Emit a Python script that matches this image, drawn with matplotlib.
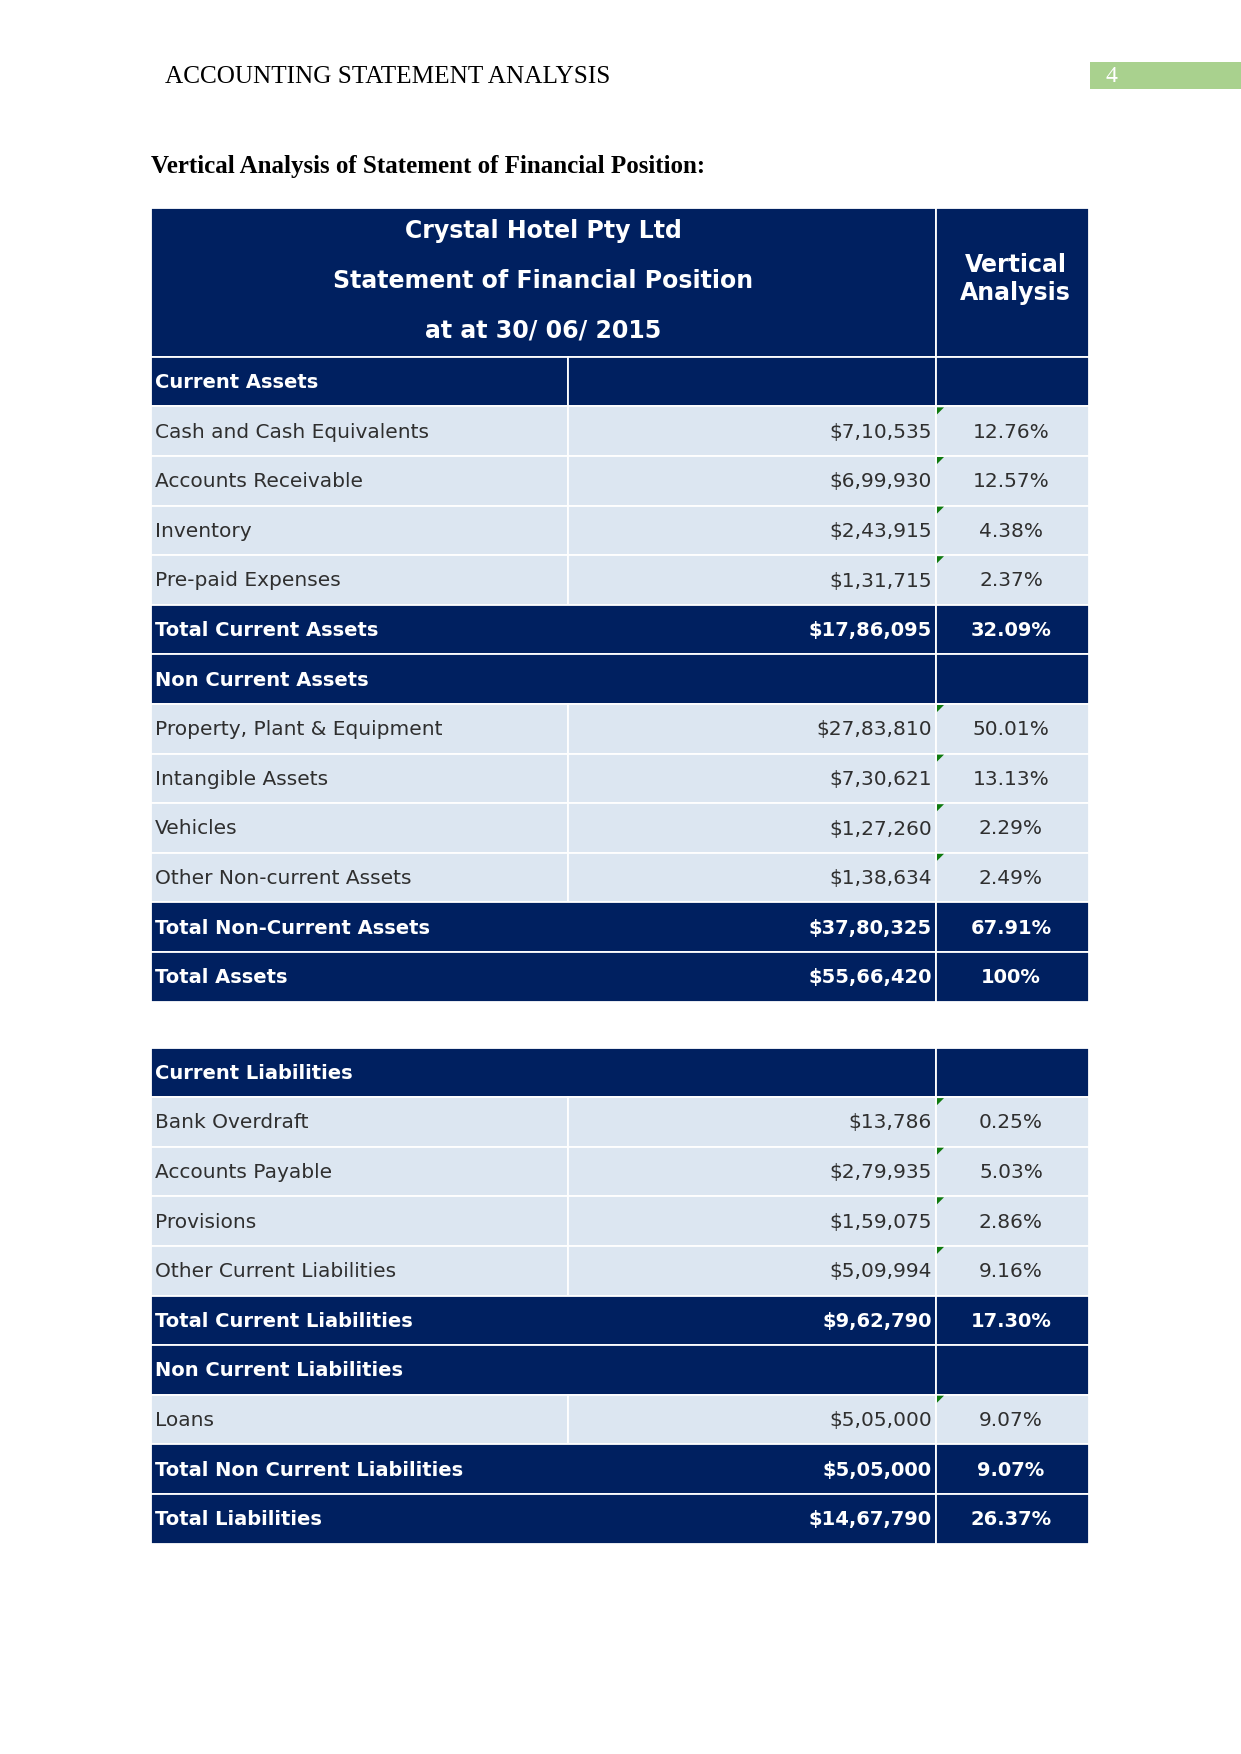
#!/usr/bin/env python3
import matplotlib.pyplot as plt
from matplotlib.patches import Rectangle, Polygon

# table data
title_lines = ["Crystal Hotel Pty Ltd", "Statement of Financial Position", "at at 30/ 06/ 2015"]
va_title = "Vertical\nAnalysis"

asset_labels = ["Current Assets", "Cash and Cash Equivalents", "Accounts Receivable", "Inventory",
                "Pre-paid Expenses", "Total Current Assets", "Non Current Assets",
                "Property, Plant & Equipment", "Intangible Assets", "Vehicles",
                "Other Non-current Assets", "Total Non-Current Assets", "Total Assets"]
asset_values = [None, 710535, 699930, 243915, 131715, 1786095, None,
                2783810, 730621, 127260, 138634, 3780325, 5566420]
asset_pcts = [None, 12.76, 12.57, 4.38, 2.37, 32.09, None, 50.01, 13.13, 2.29, 2.49, 67.91, 100]
asset_kinds = ["split", "item", "item", "item", "item", "total", "section",
               "item", "item", "item", "item", "total", "total"]

liab_labels = ["Current Liabilities", "Bank Overdraft", "Accounts Payable", "Provisions",
               "Other Current Liabilities", "Total Current Liabilities", "Non Current Liabilities",
               "Loans", "Total Non Current Liabilities", "Total Liabilities"]
liab_values = [None, 13786, 279935, 159075, 509994, 962790, None, 505000, 505000, 1467790]
liab_pcts = [None, 0.25, 5.03, 2.86, 9.16, 17.30, None, 9.07, 9.07, 26.37]
liab_kinds = ["section", "item", "item", "item", "item", "total", "section", "item", "total", "total"]

NAVY = "#002060"
LIGHT = "#dce6f1"
TEXT = "#2f2f2f"


def inr(v):
    # indian style grouping, e.g. $7,10,535
    s = str(v)
    if len(s) <= 3:
        return "$" + s
    head, tail = s[:-3], s[-3:]
    parts = []
    while len(head) > 2:
        parts.insert(0, head[-2:])
        head = head[:-2]
    if head:
        parts.insert(0, head)
    return "$" + ",".join(parts + [tail])


def pct(p):
    return "100%" if p == 100 else f"{p:.2f}%"


fig = plt.figure(figsize=(12.41, 17.54), dpi=100)
ax = fig.add_axes([0, 0, 1, 1])
ax.set_xlim(0, 1241)
ax.set_ylim(1754, 0)
ax.axis("off")

# column edges
x0, x1, x2, x3 = 151, 568, 936, 1089
rh = 49.6

# page header
ax.text(165, 77, "ACCOUNTING STATEMENT ANALYSIS", family="Liberation Serif", fontsize=18.2,
        va="center", ha="left", color="black")
ax.add_patch(Rectangle((1090, 62), 151, 27, facecolor="#a9d18e", edgecolor="none"))
ax.text(1105, 76, "4", family="Liberation Serif", fontsize=17, color="white", va="center")
ax.text(151, 167, "Vertical Analysis of Statement of Financial Position:", family="Liberation Serif",
        fontsize=18, fontweight="bold", va="center", ha="left")


def cell(x, y, w, h, fc):
    ax.add_patch(Rectangle((x, y), w, h, facecolor=fc, edgecolor="white", linewidth=1.3))


def draw_rows(top, labels, values, pcts, kinds):
    for i, (lab, val, p, k) in enumerate(zip(labels, values, pcts, kinds)):
        y = top + i * rh
        yc = y + rh / 2
        if k == "item":
            cell(x0, y, x1 - x0, rh, LIGHT)
            cell(x1, y, x2 - x1, rh, LIGHT)
            cell(x2, y, x3 - x2, rh, LIGHT)
            ax.add_patch(Polygon([(x2 + 1, y + 1), (x2 + 8, y + 1), (x2 + 1, y + 8)],
                                 closed=True, facecolor="#0f7a0f", edgecolor="none"))
            col, wt, fs = TEXT, "normal", 14.5
        else:
            if k == "split":
                cell(x0, y, x1 - x0, rh, NAVY)
                cell(x1, y, x2 - x1, rh, NAVY)
            else:
                cell(x0, y, x2 - x0, rh, NAVY)
            cell(x2, y, x3 - x2, rh, NAVY)
            col, wt, fs = "white", "bold", 14
        ax.text(x0 + 4, yc - 1, lab, color=col, fontweight=wt, fontsize=fs, va="center_baseline", ha="left")
        if val is not None:
            ax.text(x2 - 4, yc - 1, inr(val), color=col, fontweight=wt, fontsize=fs,
                    va="center_baseline", ha="right")
        if p is not None:
            ax.text(1011, yc - 1, pct(p), color=col, fontweight=wt, fontsize=fs,
                    va="center_baseline", ha="center")


# first table: header block + assets
top1 = 208
cell(x0, top1, x2 - x0, 3 * rh, NAVY)
cell(x2, top1, x3 - x2, 3 * rh, NAVY)
for j, line in enumerate(title_lines):
    ax.text((x0 + x2) / 2, top1 + (j + 0.5) * rh - 4, line, color="white", fontweight="bold",
            fontsize=17, ha="center", va="center_baseline")
ax.text((x2 + x3) / 2 + 3, top1 + 1.5 * rh - 3, va_title, color="white", fontweight="bold",
        fontsize=17, ha="center", va="center", linespacing=1.2)
draw_rows(top1 + 3 * rh, asset_labels, asset_values, asset_pcts, asset_kinds)

# second table: liabilities
draw_rows(1047.5, liab_labels, liab_values, liab_pcts, liab_kinds)

plt.savefig("out.png", dpi=100)
